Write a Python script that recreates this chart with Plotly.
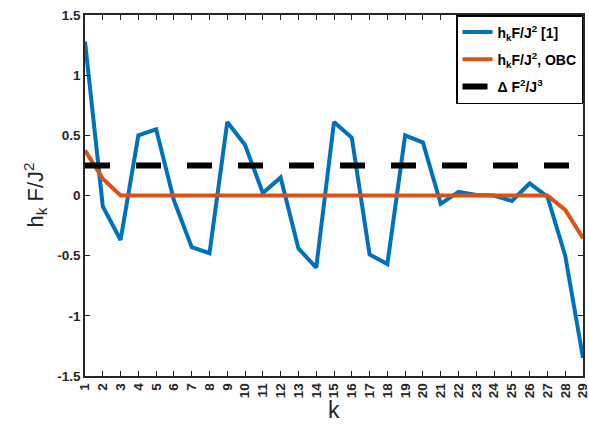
import plotly.graph_objects as go

k = list(range(1, 30))
h_ref = [1.28, -0.09, -0.37, 0.50, 0.55, -0.04, -0.43, -0.48, 0.61, 0.42,
         0.02, 0.15, -0.44, -0.60, 0.61, 0.48, -0.49, -0.57, 0.50, 0.44,
         -0.07, 0.03, 0.005, 0.0, -0.045, 0.10, -0.01, -0.50, -1.35]
h_obc = [0.375, 0.14, 0.0, 0.0, 0.0, 0.0, 0.0, 0.0, 0.0, 0.0,
         0.0, 0.0, 0.0, 0.0, 0.0, 0.0, 0.0, 0.0, 0.0, 0.0,
         0.0, 0.0, 0.0, 0.0, 0.0, 0.0, 0.0, -0.12, -0.355]
delta = [0.25] * 29

tick_labels = [str(i) for i in k]
y_ticks = [-1.5, -1, -0.5, 0, 0.5, 1, 1.5]
y_tick_text = ["-1.5", "-1", "-0.5", "0", "0.5", "1", "1.5"]

FONT = "Liberation Sans, Arial, Helvetica, sans-serif"
AXC = "#262626"

fig = go.Figure()
fig.add_trace(go.Scatter(x=k, y=h_ref, mode="lines", legendgroup="a",
                         line=dict(color="#0072BD", width=4),
                         name="h<sub>k</sub>F/J<sup>2</sup> [1]"))
fig.add_trace(go.Scatter(x=k, y=h_obc, mode="lines", legendgroup="b",
                         line=dict(color="#D95319", width=4),
                         name="h<sub>k</sub>F/J<sup>2</sup>, OBC"))
fig.add_trace(go.Scatter(x=k, y=delta, mode="lines", legendgroup="c",
                         line=dict(color="black", width=6, dash="25px,26px"),
                         name="\u0394 F<sup>2</sup>/J<sup>3</sup>"))

fig.update_layout(
    width=589, height=424,
    margin=dict(l=85, r=6, t=15, b=48, autoexpand=False),
    paper_bgcolor="white", plot_bgcolor="white",
    font=dict(family=FONT, color=AXC),
    showlegend=True,
    legend=dict(x=1, y=1, xanchor="right", yanchor="top",
                bgcolor="white", bordercolor="black", borderwidth=1.5,
                font=dict(family=FONT, size=14, color="black", weight="bold"),
                tracegroupgap=6, itemwidth=30),
    xaxis=dict(range=[1, 29], tickmode="array", tickvals=k, ticktext=tick_labels,
               tickangle=-90, ticks="inside", ticklen=5, tickwidth=1.3,
               tickcolor=AXC, showline=True, linecolor=AXC, linewidth=1.5,
               mirror="ticks", showgrid=False, zeroline=False, automargin=False,
               ticklabeloverflow="allow",
               tickfont=dict(family=FONT, size=13.5, color=AXC, weight="bold")),
    yaxis=dict(range=[-1.5, 1.5], tickmode="array", tickvals=y_ticks,
               ticktext=y_tick_text,
               ticks="inside", ticklen=5, tickwidth=1.3,
               tickcolor=AXC, showline=True, linecolor=AXC, linewidth=1.5,
               mirror="ticks", showgrid=False, zeroline=False, automargin=False,
               ticklabeloverflow="allow",
               tickfont=dict(family=FONT, size=13.5, color=AXC, weight="bold")),
    annotations=[
        dict(text="k", xref="paper", yref="paper", x=0.5, y=0,
             xanchor="center", yanchor="middle", yshift=-34, showarrow=False,
             font=dict(family=FONT, size=23, color=AXC)),
        dict(text="h<sub>k</sub> F/J<sup>2</sup>", xref="paper", yref="paper",
             x=0, y=0.5, xanchor="center", yanchor="middle", xshift=-50,
             textangle=-90, showarrow=False,
             font=dict(family=FONT, size=22, color=AXC)),
    ],
)

fig.write_html("out.html")
